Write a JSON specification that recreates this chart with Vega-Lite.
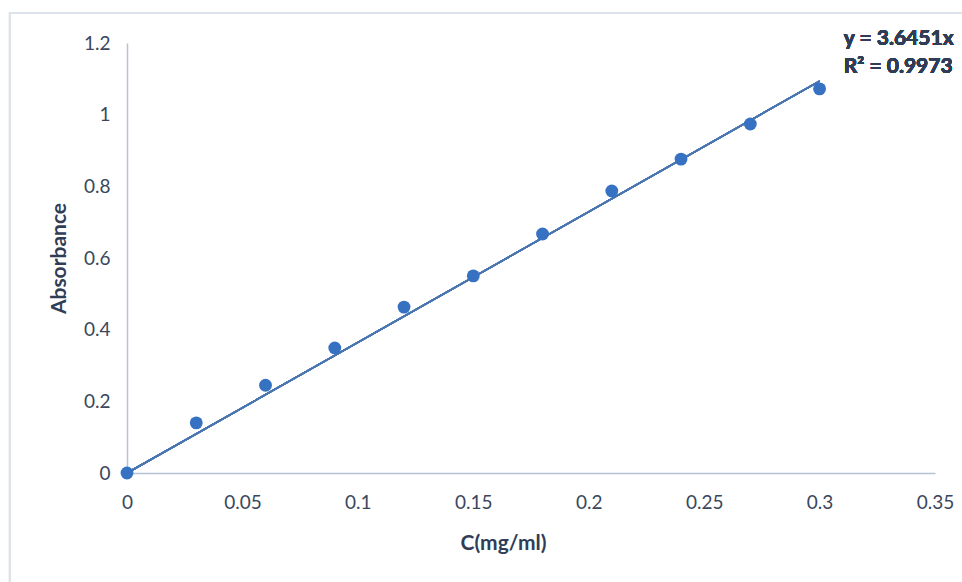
{
  "$schema": "https://vega.github.io/schema/vega-lite/v6.json",
  "width": 808,
  "height": 430,
  "autosize": {"type": "none"},
  "padding": {"left": 127, "top": 43, "right": 27, "bottom": 109},
  "background": "white",
  "config": {
    "view": {"stroke": null},
    "font": "Lato",
    "axis": {"grid": false, "ticks": false, "domainColor": "#B4C3D6", "domainWidth": 1.5, "labelColor": "#3A475C", "labelFont": "Lato", "labelFontSize": 19, "titleFont": "Lato", "titleColor": "#2F3E56", "titleFontSize": 21, "titleFontWeight": "bold", "format": "~g"}
  },
  "data": {"values": [
    {"c": 0, "abs": 0.0},
    {"c": 0.03, "abs": 0.14},
    {"c": 0.06, "abs": 0.245},
    {"c": 0.09, "abs": 0.349},
    {"c": 0.12, "abs": 0.463},
    {"c": 0.15, "abs": 0.55},
    {"c": 0.18, "abs": 0.667},
    {"c": 0.21, "abs": 0.787},
    {"c": 0.24, "abs": 0.876},
    {"c": 0.27, "abs": 0.974},
    {"c": 0.3, "abs": 1.072}
  ]},
  "layer": [
    {
      "mark": {"type": "rect", "fill": null, "stroke": "#DCE3EA", "strokeWidth": 2, "clip": false},
      "encoding": {
        "x": {"datum": -0.0507, "type": "quantitative", "scale": {"domain": [0, 0.35]}},
        "x2": {"datum": 0.42},
        "y": {"datum": 1.284, "type": "quantitative"},
        "y2": {"datum": -0.5}
      }
    },
    {
      "mark": {"type": "rule", "color": "#4A76B0", "strokeWidth": 1.5, "clip": false},
      "encoding": {
        "x": {"datum": 0, "type": "quantitative"},
        "x2": {"datum": 0.3},
        "y": {"datum": 0, "type": "quantitative"},
        "y2": {"datum": 1.0935}
      }
    },
    {
      "mark": {"type": "circle", "color": "#3671C2", "opacity": 1, "size": 165, "clip": false},
      "encoding": {
        "x": {"field": "c", "type": "quantitative", "scale": {"domain": [0, 0.35], "nice": false, "zero": true},
          "axis": {"title": "C(mg/ml)", "format": "~g", "values": [0, 0.05, 0.1, 0.15, 0.2, 0.25, 0.3, 0.35], "labelPadding": 20, "titleX": 376, "titleY": 70, "titleBaseline": "middle", "labelFlush": false}},
        "y": {"field": "abs", "type": "quantitative", "scale": {"domain": [0, 1.2], "nice": false},
          "axis": {"title": "Absorbance", "format": "~g", "values": [0, 0.2, 0.4, 0.6, 0.8, 1, 1.2], "labelPadding": 17, "titleX": -68, "titleY": 215, "titleBaseline": "middle", "labelFlush": false}}
      }
    },
    {
      "mark": {"type": "text", "align": "left", "baseline": "middle", "fontSize": 21, "fontWeight": "bold", "color": "#2F3E56", "font": "Lato", "clip": false},
      "encoding": {
        "x": {"datum": 0.3105, "type": "quantitative"},
        "y": {"datum": 1.212, "type": "quantitative"},
        "text": {"value": "y = 3.6451x"}
      }
    },
    {
      "mark": {"type": "text", "align": "left", "baseline": "middle", "fontSize": 21, "fontWeight": "bold", "color": "#2F3E56", "font": "Lato", "clip": false},
      "encoding": {
        "x": {"datum": 0.3105, "type": "quantitative"},
        "y": {"datum": 1.134, "type": "quantitative"},
        "text": {"value": "R² = 0.9973"}
      }
    }
  ]
}
